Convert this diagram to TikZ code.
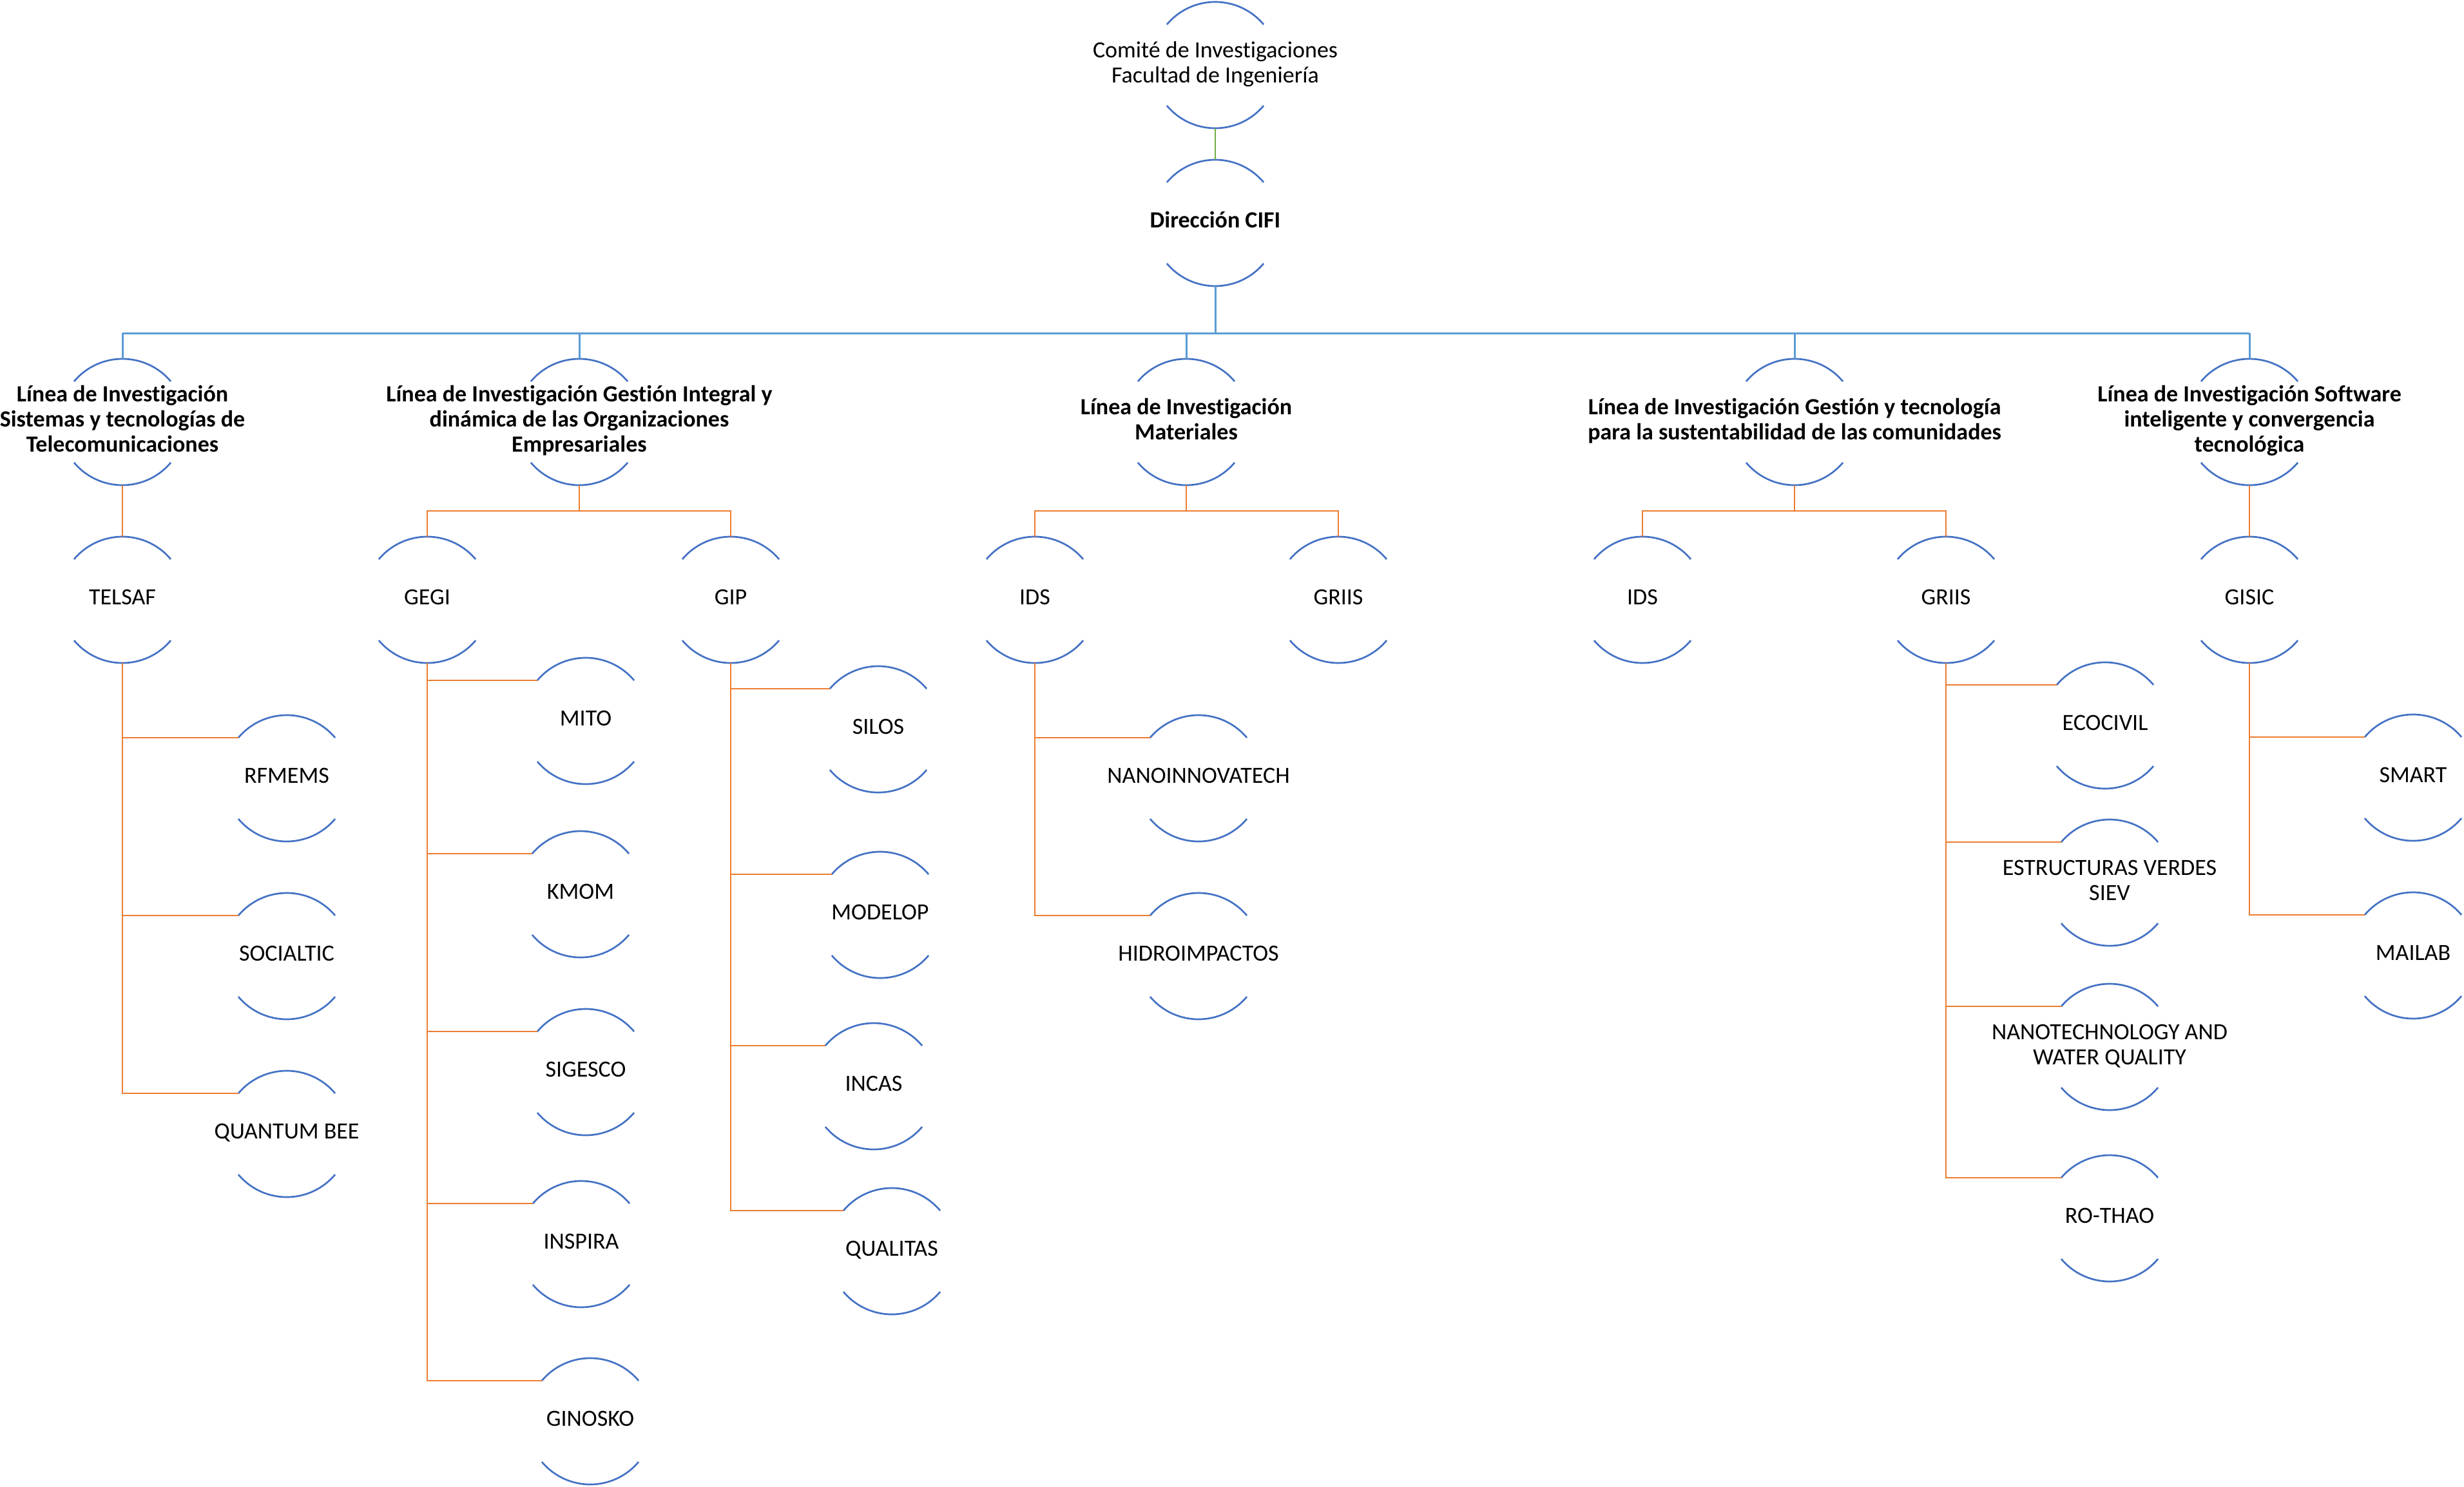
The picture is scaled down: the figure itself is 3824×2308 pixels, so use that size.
\documentclass[tikz,border=0pt]{standalone}
\usepackage{fontspec}
\setmainfont{Carlito}[Ligatures=NoCommon]
\definecolor{arcblue}{HTML}{4472C4}
\definecolor{busblue}{HTML}{5B9BD5}
\definecolor{orgline}{HTML}{ED7D31}
\definecolor{grnline}{HTML}{70AD47}
\newcommand\ztx[1]{\makebox[0pt]{\raisebox{-1.8pt}{\begin{tabular}{@{}c@{}}#1\end{tabular}}}}
\begin{document}
\begin{tikzpicture}[x=0.5pt,y=0.5pt,
  nd/.style={circle, minimum size=98pt, inner sep=0pt, outer sep=0pt, font=\fontsize{18pt}{19.5pt}\selectfont},
  bnd/.style={nd, font=\fontsize{18pt}{19.5pt}\selectfont\bfseries},
  arcln/.style={draw=arcblue, line width=1.35pt},
  busln/.style={draw=busblue, line width=1.5pt},
  oln/.style={draw=orgline, line width=1.25pt},
  gln/.style={draw=grnline, line width=1.25pt}]
\useasboundingbox (0,0) rectangle (3824,-2308);
% top
\node[nd] (com) at (1886,-101) {\ztx{Comité de Investigaciones\\Facultad de Ingeniería}};
\node[bnd] (dir) at (1886,-346) {\ztx{Dirección CIFI}};
% level 1
\node[bnd] (la) at (190,-655) {\ztx{Línea de Investigación\\Sistemas y tecnologías de\\Telecomunicaciones}};
\node[bnd] (lb) at (899,-655) {\ztx{Línea de Investigación Gestión Integral y\\dinámica de las Organizaciones\\Empresariales}};
\node[bnd] (lc) at (1841,-655) {\ztx{Línea de Investigación\\Materiales}};
\node[bnd] (ld) at (2785,-655) {\ztx{Línea de Investigación Gestión y tecnología\\para la sustentabilidad de las comunidades}};
\node[bnd] (le) at (3491,-655) {\ztx{Línea de Investigación Software\\inteligente y convergencia\\tecnológica}};
% level 2
\node[nd] (telsaf) at (190,-931) {\ztx{TELSAF}};
\node[nd] (gegi) at (663,-931) {\ztx{GEGI}};
\node[nd] (gip) at (1134,-931) {\ztx{GIP}};
\node[nd] (idsa) at (1606,-931) {\ztx{IDS}};
\node[nd] (griisa) at (2077,-931) {\ztx{GRIIS}};
\node[nd] (idsb) at (2549,-931) {\ztx{IDS}};
\node[nd] (griisb) at (3020,-931) {\ztx{GRIIS}};
\node[nd] (gisic) at (3491,-931) {\ztx{GISIC}};
% level 3
\node[nd] (rfmems) at (445,-1208) {\ztx{RFMEMS}};
\node[nd] (socialtic) at (445,-1484) {\ztx{SOCIALTIC}};
\node[nd] (quantum) at (445,-1760) {\ztx{QUANTUM BEE}};
\node[nd] (mito) at (909,-1119) {\ztx{MITO}};
\node[nd] (kmom) at (901,-1388) {\ztx{KMOM}};
\node[nd] (sigesco) at (909,-1664) {\ztx{SIGESCO}};
\node[nd] (inspira) at (902,-1931) {\ztx{INSPIRA}};
\node[nd] (ginosko) at (916,-2206) {\ztx{GINOSKO}};
\node[nd] (silos) at (1363,-1132) {\ztx{SILOS}};
\node[nd] (modelop) at (1366,-1420) {\ztx{MODELOP}};
\node[nd] (incas) at (1356,-1686) {\ztx{INCAS}};
\node[nd] (qualitas) at (1384,-1942) {\ztx{QUALITAS}};
\node[nd] (nano) at (1860,-1208) {\ztx{NANOINNOVATECH}};
\node[nd] (hidro) at (1860,-1484) {\ztx{HIDROIMPACTOS}};
\node[nd] (ecocivil) at (3267,-1126) {\ztx{ECOCIVIL}};
\node[nd] (estruct) at (3274,-1370) {\ztx{ESTRUCTURAS VERDES\\SIEV}};
\node[nd] (nanotech) at (3274,-1625) {\ztx{NANOTECHNOLOGY AND\\WATER QUALITY}};
\node[nd] (rothao) at (3274,-1891) {\ztx{RO-THAO}};
\node[nd] (smart) at (3745,-1207) {\ztx{SMART}};
\node[nd] (mailab) at (3745,-1483) {\ztx{MAILAB}};
% arcs
\foreach \n in {com,dir,la,lb,lc,ld,le,telsaf,gegi,gip,idsa,griisa,idsb,griisb,gisic,
  rfmems,socialtic,quantum,mito,kmom,sigesco,inspira,ginosko,silos,modelop,incas,qualitas,
  nano,hidro,ecocivil,estruct,nanotech,rothao,smart,mailab}{
  \draw[arcln] (\n.140) arc[start angle=140, end angle=40, radius=49pt];
  \draw[arcln] (\n.220) arc[start angle=220, end angle=320, radius=49pt];
}
% top connectors
\draw[gln] (com.south) -- (dir.north);
\coordinate (busl) at (190,-517);
\coordinate (busr) at (3491,-517);
\draw[busln] (busl) -- (busr);
\draw[busln] (dir.south) -- (dir.south |- busl);
\foreach \n in {la,lb,lc,ld,le}{\draw[busln] (\n.north) -- (\n.north |- busl);}
% level 1 -> level 2
\coordinate (jy) at (0,-793);
\draw[oln] (la.south) -- (telsaf.north);
\draw[oln] (le.south) -- (gisic.north);
\draw[oln] (lb.south) -- (lb.south |- jy);
\draw[oln] (gegi.north) -- (gegi.north |- jy) -- (gip.north |- jy) -- (gip.north);
\draw[oln] (lc.south) -- (lc.south |- jy);
\draw[oln] (idsa.north) -- (idsa.north |- jy) -- (griisa.north |- jy) -- (griisa.north);
\draw[oln] (ld.south) -- (ld.south |- jy);
\draw[oln] (idsb.north) -- (idsb.north |- jy) -- (griisb.north |- jy) -- (griisb.north);
% level 2 -> level 3
\foreach \p/\c in {telsaf/rfmems,telsaf/socialtic,telsaf/quantum,
  gegi/mito,gegi/kmom,gegi/sigesco,gegi/inspira,gegi/ginosko,
  gip/silos,gip/modelop,gip/incas,gip/qualitas,
  idsa/nano,idsa/hidro,
  griisb/ecocivil,griisb/estruct,griisb/nanotech,griisb/rothao,
  gisic/smart,gisic/mailab}{
  \draw[oln] (\p.south) |- (\c.140);
}
\end{tikzpicture}
\end{document}
